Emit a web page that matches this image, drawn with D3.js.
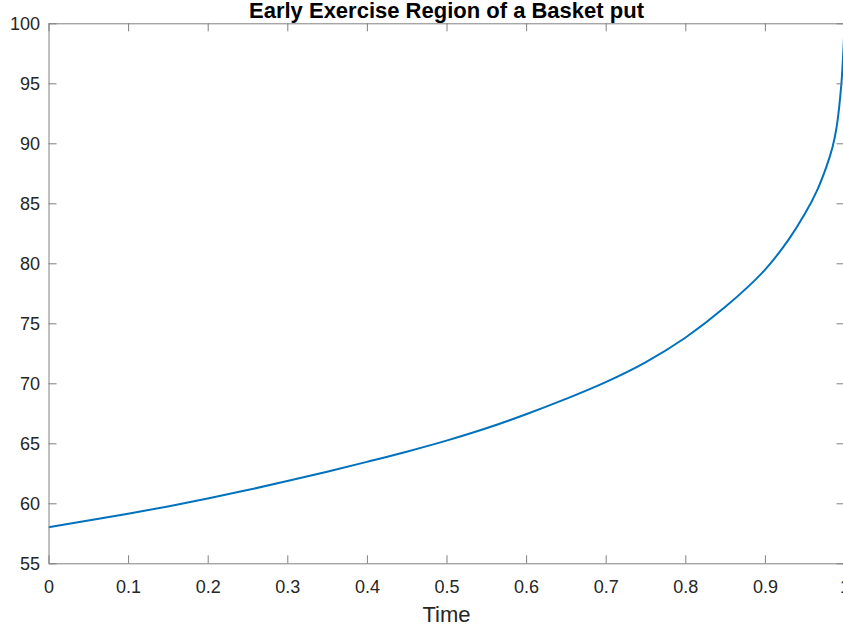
<!DOCTYPE html>
<html>
<head>
<meta charset="utf-8">
<script src="https://cdn.jsdelivr.net/npm/d3@7"></script>
<style>
  body { margin: 0; background: #fff; }
  svg { display: block; font-family: "Liberation Sans", Arial, sans-serif; }
</style>
</head>
<body>
<div id="chart"></div>
<script>
'use strict';

// data
const times = [0, 0.05, 0.1, 0.15, 0.2, 0.25, 0.3, 0.35, 0.4, 0.45, 0.5, 0.55, 0.6, 0.65,
  0.7, 0.75, 0.8, 0.85, 0.9, 0.93, 0.95, 0.965, 0.977, 0.985, 0.99, 0.996, 0.999, 1];
const boundary = [58.0, 58.56, 59.13, 59.74, 60.4, 61.1, 61.85, 62.63, 63.45, 64.3, 65.22,
  66.25, 67.42, 68.7, 70.1, 71.75, 73.8, 76.35, 79.45, 82.0, 84.1, 86.0, 88.0, 89.7, 91.3,
  94.9, 98.3, 100];
const xTicks = [0, 0.1, 0.2, 0.3, 0.4, 0.5, 0.6, 0.7, 0.8, 0.9, 1];
const yTicks = [55, 60, 65, 70, 75, 80, 85, 90, 95, 100];
const titleText = 'Early Exercise Region of a Basket put';
const xLabel = 'Time';

const config = {
  width: 843,
  height: 632,
  plot: { left: 48.5, right: 844.5, top: 23.3, bottom: 563.3 },
  tickSize: 8,
  axisColor: '#808080',
  textColor: '#262626',
  lineColor: '#0072BD'
};

const { width, height, plot } = config;

const svg = d3.select('#chart').append('svg')
  .attr('width', width)
  .attr('height', height);

const x = d3.scaleLinear().domain([0, 1]).range([plot.left, plot.right]);
const y = d3.scaleLinear().domain([55, 100]).range([plot.bottom, plot.top]);

const data = times.map((t, i) => ({ t: t, v: boundary[i] }));

// clip the curve to the axes box
svg.append('clipPath').attr('id', 'plot-clip')
  .append('rect')
  .attr('x', plot.left).attr('y', plot.top)
  .attr('width', plot.right - plot.left)
  .attr('height', plot.bottom - plot.top);

const line = d3.line()
  .x(d => x(d.t))
  .y(d => y(d.v))
  .curve(d3.curveCatmullRom.alpha(0.5));

svg.append('path')
  .datum(data)
  .attr('clip-path', 'url(#plot-clip)')
  .attr('fill', 'none')
  .attr('stroke', config.lineColor)
  .attr('stroke-width', 2)
  .attr('d', line);

const styleAxis = (g, showLabels) => {
  g.attr('font-family', null);
  g.selectAll('.domain, .tick line')
    .attr('stroke', config.axisColor)
    .attr('stroke-width', 1);
  g.selectAll('.tick text')
    .attr('fill', config.textColor)
    .style('font-size', '18px');
  if (!showLabels) g.selectAll('.tick text').remove();
};

const fmt = d => String(d);

svg.append('g')
  .attr('transform', `translate(0, ${plot.bottom})`)
  .call(d3.axisBottom(x).tickValues(xTicks).tickFormat(fmt)
    .tickSizeInner(-config.tickSize).tickSizeOuter(0).tickPadding(16.5))
  .call(g => styleAxis(g, true));

svg.append('g')
  .attr('transform', `translate(0, ${plot.top})`)
  .call(d3.axisTop(x).tickValues(xTicks)
    .tickSizeInner(-config.tickSize).tickSizeOuter(0))
  .call(g => styleAxis(g, false));

svg.append('g')
  .attr('transform', `translate(${plot.left}, 0)`)
  .call(d3.axisLeft(y).tickValues(yTicks).tickFormat(fmt)
    .tickSizeInner(-config.tickSize).tickSizeOuter(0).tickPadding(8.5))
  .call(g => styleAxis(g, true));

svg.append('g')
  .attr('transform', `translate(${plot.right}, 0)`)
  .call(d3.axisRight(y).tickValues(yTicks)
    .tickSizeInner(-config.tickSize).tickSizeOuter(0))
  .call(g => styleAxis(g, false));

svg.append('text')
  .attr('x', (plot.left + plot.right) / 2)
  .attr('y', 18)
  .attr('text-anchor', 'middle')
  .style('font-size', '22px')
  .style('font-weight', 'bold')
  .attr('fill', '#000')
  .text(titleText);

svg.append('text')
  .attr('x', (plot.left + plot.right) / 2)
  .attr('y', 621.5)
  .attr('text-anchor', 'middle')
  .style('font-size', '22px')
  .attr('fill', config.textColor)
  .text(xLabel);
</script>
</body>
</html>
